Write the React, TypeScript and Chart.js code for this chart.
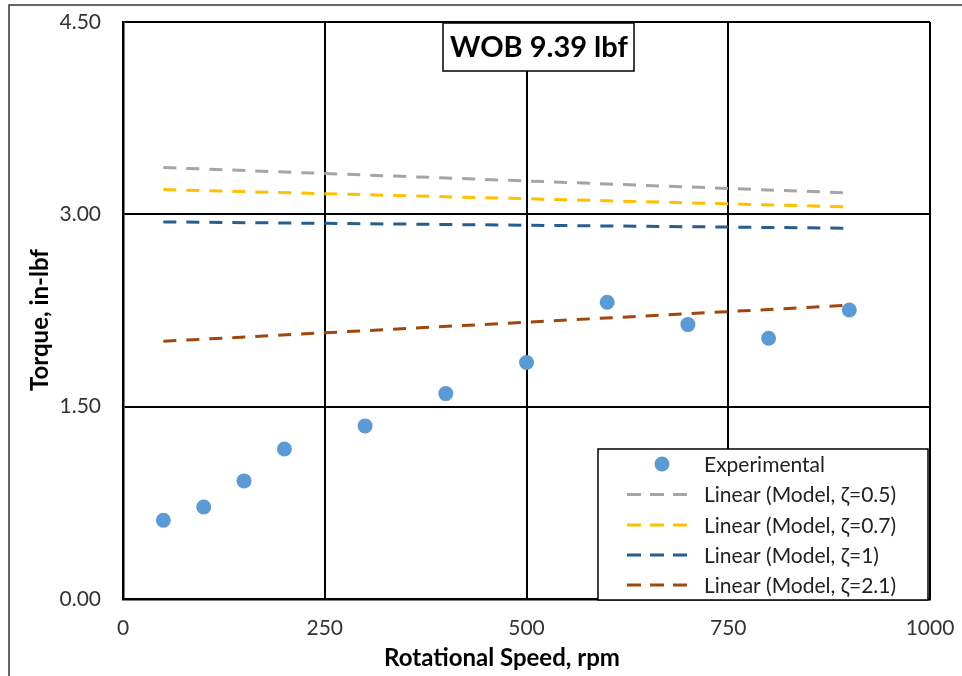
import React, { useEffect, useRef } from "react";
import { Chart, registerables } from "chart.js";

Chart.register(...registerables);

// ---- data ----
const expSpeed = [50, 100, 150, 200, 300, 400, 500, 600, 700, 800, 900];
const expTorque = [0.614, 0.718, 0.921, 1.17, 1.35, 1.602, 1.844, 2.314, 2.14, 2.034, 2.254];

const trendSpeed = [50, 900];
const model05 = [3.365, 3.167];
const model07 = [3.193, 3.058];
const model1 = [2.941, 2.892];
const model21 = [2.01, 2.291];

const xTicks = [0, 250, 500, 750, 1000];
const yTicks = [0, 1.5, 3.0, 4.5];

const chartTitle = "WOB 9.39 lbf";
const xTitle = "Rotational Speed, rpm";
const yTitle = "Torque, in-lbf";

const legendLabels = [
  "Experimental",
  "Linear (Model, \u03b6=0.5)",
  "Linear (Model, \u03b6=0.7)",
  "Linear (Model, \u03b6=1)",
  "Linear (Model, \u03b6=2.1)",
];

const COL_EXP = "#5B9BD5";
const COL_05 = "#A5A5A5";
const COL_07 = "#FFC000";
const COL_1 = "#255E91";
const COL_21 = "#9E480E";
const FONT = "Lato, 'Noto Sans', sans-serif";

const pairs = (xs: number[], ys: number[]) => xs.map((x, i) => ({ x, y: ys[i] }));

const decorPlugin = {
  id: "decor",
  beforeDraw(chart: any) {
    const ctx = chart.ctx;
    ctx.save();
    ctx.fillStyle = "#fff";
    ctx.fillRect(0, 0, chart.width, chart.height);
    ctx.strokeStyle = "#333";
    ctx.lineWidth = 1.5;
    ctx.beginPath();
    ctx.moveTo(9, chart.height);
    ctx.lineTo(9, 5);
    ctx.lineTo(chart.width, 5);
    ctx.stroke();
    ctx.restore();
  },
  afterDraw(chart: any) {
    const ctx = chart.ctx;
    ctx.save();
    // title box
    ctx.fillStyle = "#fff";
    ctx.fillRect(443, 23, 191, 48);
    ctx.strokeStyle = "#000";
    ctx.lineWidth = 1.5;
    ctx.strokeRect(443, 23, 191, 48);
    ctx.fillStyle = "#000";
    ctx.font = `bold 29px ${FONT}`;
    ctx.textAlign = "center";
    ctx.textBaseline = "middle";
    ctx.fillText(chartTitle, 539, 48);

    // axis titles
    ctx.font = `bold 24px ${FONT}`;
    ctx.fillText(xTitle, 502, 658);
    ctx.save();
    ctx.translate(40, 320);
    ctx.rotate(-Math.PI / 2);
    ctx.fillText(yTitle, 0, 0);
    ctx.restore();

    // legend
    const lx = 598, ly = 449, lw = 330, lh = 151;
    ctx.fillStyle = "#fff";
    ctx.fillRect(lx, ly, lw, lh);
    ctx.strokeStyle = "#000";
    ctx.lineWidth = 1.5;
    ctx.strokeRect(lx, ly, lw, lh);
    const rows = [464, 494.5, 525, 555, 585];
    const cols = [COL_EXP, COL_05, COL_07, COL_1, COL_21];
    ctx.font = `21px ${FONT}`;
    ctx.textAlign = "left";
    ctx.textBaseline = "middle";
    rows.forEach((ry, i) => {
      if (i === 0) {
        ctx.fillStyle = COL_EXP;
        ctx.beginPath();
        ctx.arc(662, ry, 7.5, 0, Math.PI * 2);
        ctx.fill();
      } else {
        ctx.strokeStyle = cols[i];
        ctx.lineWidth = 3;
        ctx.setLineDash([14, 9]);
        ctx.beginPath();
        ctx.moveTo(627, ry);
        ctx.lineTo(688, ry);
        ctx.stroke();
        ctx.setLineDash([]);
      }
      ctx.fillStyle = "#222";
      ctx.fillText(legendLabels[i], 704, ry + 1);
    });
    ctx.restore();
  },
};

export default function App() {
  const ref = useRef<HTMLCanvasElement>(null);
  useEffect(() => {
    if (!ref.current) return;
    const lineDs = (label: string, data: number[], color: string) => ({
      type: "line" as const,
      label,
      data: pairs(trendSpeed, data),
      borderColor: color,
      backgroundColor: color,
      borderWidth: 3,
      borderDash: [13, 10],
      pointRadius: 0,
      showLine: true,
      fill: false,
    });
    const chart = new Chart(ref.current, {
      type: "scatter",
      data: {
        datasets: [
          lineDs(legendLabels[1], model05, COL_05),
          lineDs(legendLabels[2], model07, COL_07),
          lineDs(legendLabels[3], model1, COL_1),
          lineDs(legendLabels[4], model21, COL_21),
          {
            label: legendLabels[0],
            data: pairs(expSpeed, expTorque),
            backgroundColor: COL_EXP,
            borderColor: COL_EXP,
            pointRadius: 7.5,
            borderWidth: 0,
          } as any,
        ],
      },
      options: {
        animation: false,
        responsive: false,
        layout: { padding: { top: 22, right: 32, left: 0, bottom: 0 } },
        plugins: { legend: { display: false }, tooltip: { enabled: false }, title: { display: false } },
        scales: {
          x: {
            type: "linear",
            min: 0,
            max: 1000,
            afterBuildTicks: (s: any) => {
              s.ticks = xTicks.map((v) => ({ value: v }));
            },
            afterFit: (s: any) => {
              s.height = 77;
              s.paddingLeft = 0;
              s.paddingRight = 0;
            },
            ticks: {
              color: "#333",
              font: { size: 21, family: FONT },
              padding: 17,
              maxRotation: 0,
              callback: (v: any) => String(v),
            },
            grid: { color: "#000", lineWidth: 2, drawTicks: false },
            border: { color: "#000", width: 2.5 },
          },
          y: {
            type: "linear",
            min: 0,
            max: 4.5,
            afterBuildTicks: (s: any) => {
              s.ticks = yTicks.map((v) => ({ value: v }));
            },
            afterFit: (s: any) => {
              s.width = 123;
              s.paddingTop = 0;
              s.paddingBottom = 0;
            },
            ticks: {
              color: "#333",
              font: { size: 21, family: FONT },
              padding: 22,
              callback: (v: any) => Number(v).toFixed(2),
            },
            grid: { color: "#000", lineWidth: 2, drawTicks: false },
            border: { color: "#000", width: 2.5 },
          },
        },
      },
      plugins: [decorPlugin],
    });
    return () => chart.destroy();
  }, []);
  return (
    <div style={{ position: "absolute", left: 0, top: 0, width: 962, height: 676, background: "#fff" }}>
      <canvas ref={ref} width={962} height={676} style={{ width: 962, height: 676, display: "block" }} />
    </div>
  );
}
